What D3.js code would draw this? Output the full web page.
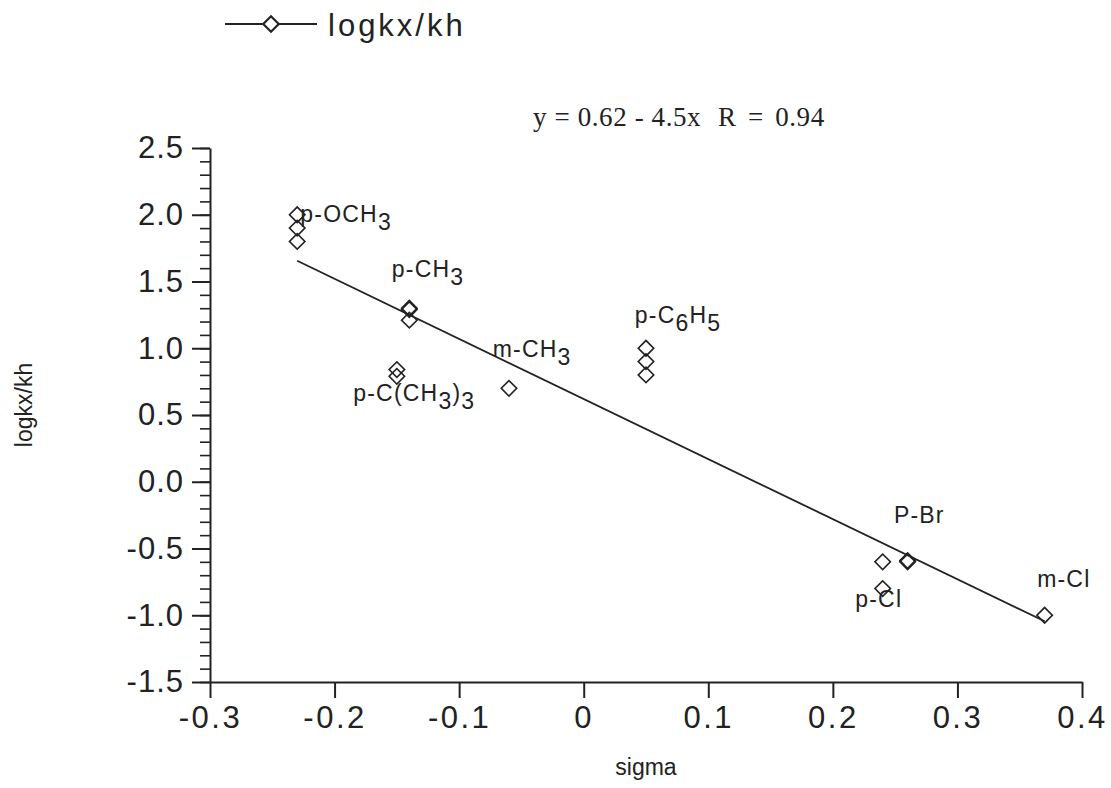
<!DOCTYPE html>
<html>
<head>
<meta charset="utf-8">
<script src="https://cdn.jsdelivr.net/npm/d3@7"></script>
<style>
  html, body { margin: 0; padding: 0; background: #fff; }
  svg { display: block; }
  text { fill: #222; }
</style>
</head>
<body>
<svg id="chart" width="1111" height="788"></svg>
<script>
// ---- data ----
const seriesName = "logkx/kh";
const sigma   = [-0.23, -0.23, -0.23, -0.14, -0.14, -0.14, -0.15, -0.15, -0.06, 0.05, 0.05, 0.05, 0.24, 0.24, 0.26, 0.26, 0.37];
const logkxkh = [ 2.00,  1.90,  1.80,  1.30,  1.29,  1.21,  0.84,  0.79,  0.70, 1.00, 0.90, 0.80, -0.60, -0.80, -0.60, -0.59, -1.00];
const fitIntercept = 0.62, fitSlope = -4.5;
const fitRange = [-0.23, 0.37];
const xTicks = [-0.3, -0.2, -0.1, 0, 0.1, 0.2, 0.3, 0.4];
const xTickLabels = ["-0.3", "-0.2", "-0.1", "0", "0.1", "0.2", "0.3", "0.4"];
const yTicks = [-1.5, -1.0, -0.5, 0.0, 0.5, 1.0, 1.5, 2.0, 2.5];
const yTickLabels = ["-1.5", "-1.0", "-0.5", "0.0", "0.5", "1.0", "1.5", "2.0", "2.5"];
const yMinorTicks = d3.range(-15, 26).map(d => d / 10);
const equationLeft = "y = 0.62 - 4.5x";
const equationRight = "R = 0.94";
// substituent labels: parts [text, isSub], anchor in data units
const labelParts = [
  [["p-OCH", 0], ["3", 1]],
  [["p-CH", 0], ["3", 1]],
  [["m-CH", 0], ["3", 1]],
  [["p-C(CH", 0], ["3", 1], [")", 0], ["3", 1]],
  [["p-C", 0], ["6", 1], ["H", 0], ["5", 1]],
  [["P-Br", 0]],
  [["p-Cl", 0]],
  [["m-Cl", 0]]
];
const labelSigma = [-0.2275, -0.154, -0.073, -0.185, 0.041, 0.249, 0.218, 0.364];
const labelValue = [1.945, 1.534, 0.934, 0.605, 1.189, -0.309, -0.938, -0.788];

// ---- layout ----
const svg = d3.select("#chart");
const ink = "#222";
const x = d3.scaleLinear().domain([-0.3, 0.4]).range([210, 1082]);
const y = d3.scaleLinear().domain([-1.5, 2.5]).range([682, 148]);
const font = "'Liberation Sans', Arial, Helvetica, sans-serif";
const serif = "'Liberation Serif', 'Times New Roman', serif";

// minor y ticks
svg.append("g")
  .attr("transform", `translate(${x(-0.3)},0)`)
  .call(d3.axisLeft(y).tickValues(yMinorTicks).tickSize(10).tickFormat(""))
  .call(g => g.select(".domain").remove())
  .call(g => g.selectAll("line").attr("stroke", ink).attr("stroke-width", 1.6));

// y axis
svg.append("g")
  .attr("transform", `translate(${x(-0.3)},0)`)
  .call(d3.axisLeft(y).tickValues(yTicks).tickSize(18).tickSizeOuter(0).tickPadding(8)
        .tickFormat((d, i) => yTickLabels[i]))
  .call(g => g.select(".domain").attr("stroke", ink).attr("stroke-width", 2))
  .call(g => g.selectAll("line").attr("stroke", ink).attr("stroke-width", 2))
  .call(g => g.selectAll("text").attr("font-family", font).attr("font-size", 31).attr("fill", ink)
        .attr("letter-spacing", 1));

// x axis
svg.append("g")
  .attr("transform", `translate(0,${y(-1.5)})`)
  .call(d3.axisBottom(x).tickValues(xTicks).tickSize(16).tickSizeOuter(0).tickPadding(8)
        .tickFormat((d, i) => xTickLabels[i]))
  .call(g => g.select(".domain").attr("stroke", ink).attr("stroke-width", 2))
  .call(g => g.selectAll("line").attr("stroke", ink).attr("stroke-width", 2))
  .call(g => g.selectAll("text").attr("font-family", font).attr("font-size", 31).attr("fill", ink)
        .attr("letter-spacing", 2.5));

// axis titles
svg.append("text")
  .attr("x", (x.range()[0] + x.range()[1]) / 2).attr("y", 775)
  .attr("text-anchor", "middle").attr("font-family", font).attr("font-size", 23)
  .text("sigma");
svg.append("text")
  .attr("transform", `translate(32,405) rotate(-90)`)
  .attr("text-anchor", "middle").attr("font-family", font).attr("font-size", 23)
  .text(seriesName);

// fit line
svg.append("line")
  .attr("x1", x(fitRange[0])).attr("y1", y(fitIntercept + fitSlope * fitRange[0]))
  .attr("x2", x(fitRange[1])).attr("y2", y(fitIntercept + fitSlope * fitRange[1]))
  .attr("stroke", ink).attr("stroke-width", 1.8);

// points
const diamond = d3.symbol().type(d3.symbolSquare).size(120);
svg.append("g").selectAll("path")
  .data(sigma.map((s, i) => [s, logkxkh[i]]))
  .join("path")
  .attr("d", diamond)
  .attr("transform", d => `translate(${x(d[0])},${y(d[1])}) rotate(45)`)
  .attr("fill", "none").attr("stroke", ink).attr("stroke-width", 1.6);

// labels
const lab = svg.append("g").attr("font-family", font).attr("font-size", 23).attr("letter-spacing", 1.2);
labelParts.forEach((parts, i) => {
  const t = lab.append("text").attr("x", x(labelSigma[i])).attr("y", y(labelValue[i]));
  let shift = 0;
  parts.forEach(([txt, sub]) => {
    const want = sub ? 8 : 0;
    t.append("tspan").attr("dy", want - shift).text(txt);
    shift = want;
  });
});

// equation
svg.append("text").attr("x", 533).attr("y", 126)
  .attr("font-family", serif).attr("font-size", 27).attr("letter-spacing", 0.6)
  .text(equationLeft);
svg.append("text").attr("x", 718).attr("y", 126)
  .attr("font-family", serif).attr("font-size", 27).attr("letter-spacing", 0.6)
  .attr("word-spacing", 4)
  .text(equationRight);

// legend
const lg = svg.append("g");
lg.append("line").attr("x1", 225).attr("x2", 317).attr("y1", 24).attr("y2", 24)
  .attr("stroke", ink).attr("stroke-width", 2);
lg.append("path").attr("d", diamond).attr("transform", "translate(271,24) rotate(45)")
  .attr("fill", "#fff").attr("stroke", ink).attr("stroke-width", 2.2);
lg.append("text").attr("x", 328).attr("y", 36)
  .attr("font-family", font).attr("font-size", 31).attr("letter-spacing", 3)
  .text(seriesName);
</script>
</body>
</html>
